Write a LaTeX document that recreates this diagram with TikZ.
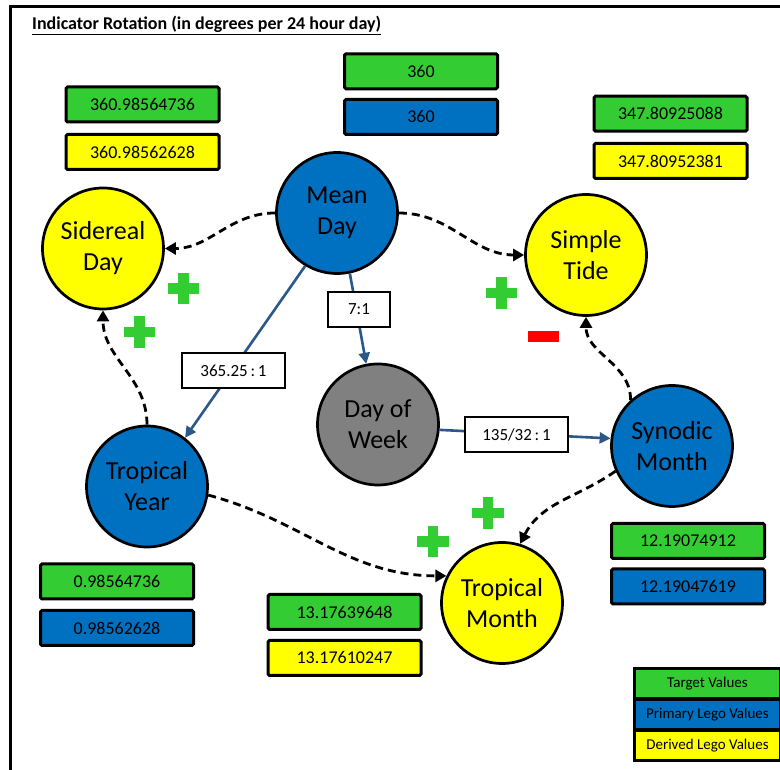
\documentclass[tikz,border=0pt]{standalone}
\usepackage{fontspec}
\setmainfont{Carlito}
\usetikzlibrary{arrows.meta}
\definecolor{gfill}{HTML}{33CC33}
\definecolor{bfill}{HTML}{0070C0}
\definecolor{yfill}{HTML}{FFFF00}
\definecolor{grfill}{HTML}{808080}
\definecolor{conn}{HTML}{2B5889}
\definecolor{minusr}{HTML}{FF0000}
\begin{document}
\begin{tikzpicture}[x=1pt,y=1pt,
  circ/.style={circle,draw=black,line width=2.7pt,minimum size=121pt,inner sep=0pt,align=center,font=\fontsize{26}{31}\selectfont},
  valbox/.style={draw=black,line width=3pt,rounded corners=1.5pt,minimum width=153pt,minimum height=35pt,inner sep=0pt,font=\fontsize{18}{20}\selectfont},
  ratiobox/.style={draw=black,fill=white,line width=2pt,minimum height=35pt,inner sep=0pt,font=\fontsize{17}{20}\selectfont},
  bluearrow/.style={draw=conn,line width=2.6pt,-{Triangle[length=11pt,width=11pt]}},
  dasharrow/.style={draw=black,line width=2.8pt,dash pattern=on 8pt off 5pt,-{Triangle[length=11pt,width=12pt]}},
  legrow/.style={draw=black,line width=3pt,minimum width=146pt,minimum height=30pt,inner sep=0pt,font=\fontsize{15}{16}\selectfont},
  plussign/.pic={\fill[gfill] (-5.25,-15.75) rectangle (5.25,15.75); \fill[gfill] (-15.75,-5.25) rectangle (15.75,5.25);}
]
\useasboundingbox (0,0) rectangle (780,770);
\clip (0,0) rectangle (780,770);
\fill[white] (0,0) rectangle (780,770);
% frame
\draw[line width=3pt] (10,-5) -- (10,763) -- (790,763);
\node[anchor=base west,inner sep=0pt,font=\bfseries\fontsize{18}{20}\selectfont] (title) at (32,740) {\underline{Indicator Rotation (in degrees per 24 hour day)}};

% circles
\node[circ,fill=bfill] (md) at (337,557) {Mean\\Day};
\node[circ,fill=yfill] (sd) at (103,521.5) {Sidereal\\Day};
\node[circ,fill=yfill] (st) at (586,515) {Simple\\Tide};
\node[circ,fill=grfill] (dw) at (378,345.5) {Day of\\Week};
\node[circ,fill=bfill] (sm) at (672,324) {Synodic\\Month};
\node[circ,fill=bfill] (ty) at (147,283.5) {Tropical\\Year};
\node[circ,fill=yfill] (tm) at (502,167) {Tropical\\Month};

% value boxes
\node[valbox,fill=gfill] (g360) at (421,698.7) {360};
\node[valbox,fill=bfill] (b360) at (421,653) {360};
\node[valbox,fill=gfill] (gsd) at (142.5,665.5) {360.98564736};
\node[valbox,fill=yfill] (ysd) at (142.5,618) {360.98562628};
\node[valbox,fill=gfill] (gst) at (670.5,656.3) {347.80925088};
\node[valbox,fill=yfill] (yst) at (670.5,609) {347.80952381};
\node[valbox,fill=gfill] (gsm) at (688,229) {12.19074912};
\node[valbox,fill=bfill] (bsm) at (688,183.5) {12.19047619};
\node[valbox,fill=gfill] (gty) at (117,188.5) {0.98564736};
\node[valbox,fill=bfill] (bty) at (117,142) {0.98562628};
\node[valbox,fill=gfill] (gtm) at (344.5,158) {13.17639648};
\node[valbox,fill=yfill] (ytm) at (344.5,112) {13.17610247};

% blue connectors
\draw[bluearrow] (md.239) -- (ty.52);
\draw[bluearrow] (md.-78) -- (dw.101);
\draw[bluearrow] (dw.-5) -- (sm.173);

% dashed connectors
\draw[dasharrow] (md.west) to[out=180,in=0] (sd.east);
\draw[dasharrow] (md.east) to[out=0,in=180] (st.west);
\draw[dasharrow] (ty.north) to[out=90,in=-90] (sd.south);
\draw[dasharrow] (sm.132) to[out=90,in=-90] (st.south);
\draw[dasharrow] (ty.-8) to[out=-15,in=180] (tm.154);
\draw[dasharrow] (sm.204) to[out=215,in=63] (tm.73);

% ratio labels
\node[ratiobox,minimum width=62pt] (r71) at (359,460.5) {7:1};
\node[ratiobox,minimum width=103pt] (r365) at (233.5,399) {365.25\,:\,1};
\node[ratiobox,minimum width=103pt] (r135) at (516.5,335.5) {135/32\,:\,1};

% signs
\pic at (183.5,481.5) {plussign};
\pic at (139.5,438) {plussign};
\pic at (501.5,477) {plussign};
\pic at (488,257) {plussign};
\pic at (433,228.3) {plussign};
\fill[minusr] (527.75,428.3) rectangle (559.25,439.3);

% legend
\node[legrow,fill=gfill] (lg) at (707.5,86.5) {Target Values};
\node[legrow,fill=bfill] (lb) at (707.5,55.5) {Primary Lego Values};
\node[legrow,fill=yfill] (ly) at (707.5,24.5) {Derived Lego Values};
\end{tikzpicture}
\end{document}
